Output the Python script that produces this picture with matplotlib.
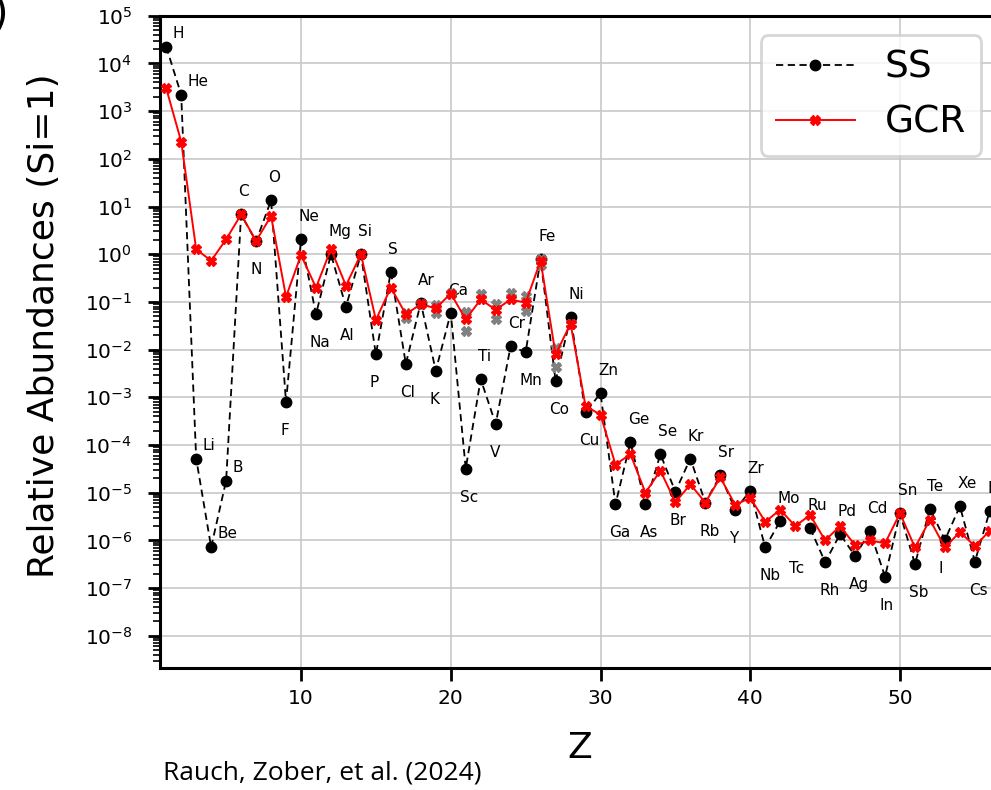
import numpy as np
import matplotlib
matplotlib.use("Agg")
import matplotlib.pyplot as plt
from matplotlib.ticker import LogLocator, NullFormatter

# element symbols, Z = 1..56
elements = ["H", "He", "Li", "Be", "B", "C", "N", "O", "F", "Ne",
            "Na", "Mg", "Al", "Si", "P", "S", "Cl", "Ar", "K", "Ca",
            "Sc", "Ti", "V", "Cr", "Mn", "Fe", "Co", "Ni", "Cu", "Zn",
            "Ga", "Ge", "As", "Se", "Br", "Kr", "Rb", "Sr", "Y", "Zr",
            "Nb", "Mo", "Tc", "Ru", "Rh", "Pd", "Ag", "Cd", "In", "Sn",
            "Sb", "Te", "I", "Xe", "Cs", "Ba"]
z = np.arange(1, len(elements) + 1)

# solar system abundances (Si = 1); Tc has no value
ss = np.array([2.24e4, 2.2e3, 5.2e-5, 7.2e-7, 1.8e-5, 6.8, 1.85, 13.5, 7.9e-4, 2.05,
               0.055, 1.0, 0.079, 1.0, 7.9e-3, 0.43, 5.0e-3, 0.096, 3.6e-3, 0.059,
               3.2e-5, 2.4e-3, 2.75e-4, 0.0119, 8.8e-3, 0.78, 2.2e-3, 0.0475, 4.85e-4, 1.21e-3,
               5.7e-6, 1.15e-4, 5.7e-6, 6.4e-5, 1.05e-5, 5.2e-5, 6.2e-6, 2.3e-5, 4.4e-6, 1.1e-5,
               7.1e-7, 2.55e-6, np.nan, 1.8e-6, 3.5e-7, 1.35e-6, 4.7e-7, 1.55e-6, 1.74e-7, 3.7e-6,
               3.2e-7, 4.6e-6, 1.02e-6, 5.2e-6, 3.6e-7, 4.2e-6])

# galactic cosmic ray abundances (Si = 1)
gcr = np.array([3.0e3, 229, 1.27, 0.73, 2.05, 6.8, 1.9, 6.3, 0.128, 0.96,
                0.20, 1.28, 0.22, 1.0, 0.042, 0.20, 0.055, 0.09, 0.073, 0.15,
                0.043, 0.113, 0.068, 0.113, 0.096, 0.73, 7.9e-3, 0.035, 6.6e-4, 4.3e-4,
                3.9e-5, 6.4e-5, 1.0e-5, 2.9e-5, 6.3e-6, 1.5e-5, 6.2e-6, 2.1e-5, 5.5e-6, 7.9e-6,
                2.45e-6, 4.4e-6, 2.0e-6, 3.4e-6, 1.0e-6, 2.0e-6, 7.9e-7, 1.0e-6, 8.7e-7, 3.7e-6,
                7.1e-7, 2.7e-6, 7.1e-7, 1.5e-6, 7.6e-7, 1.6e-6])

# grey GCR range markers, Cl..Ni
z_range = np.arange(17, 29)
gcr_hi = np.array([0.059, 0.09, 0.086, 0.156, 0.062, 0.145, 0.089, 0.156, 0.133, 0.8, 0.0107, 0.035])
gcr_lo = np.array([0.046, 0.09, 0.059, 0.15, 0.0245, 0.113, 0.043, 0.113, 0.065, 0.59, 0.0044, 0.035])

W, H = 991, 790
fig = plt.figure(figsize=(W / 100, H / 100), dpi=100)

# axes are cropped on the right, as in the reference
px_per_z = 14.975
x0_px = 151.25
xmin, xmax = 0.584, 60
left_px, bottom_px, top_px = 160, 668, 15.7
right_px = x0_px + xmax * px_per_z
ax = fig.add_axes([left_px / W, (H - bottom_px) / H,
                   (right_px - left_px) / W, (bottom_px - top_px) / H])

ax.plot(z, ss, "--", color="black", lw=1.3, marker="o", ms=7.5, dashes=(4, 2.5), label="SS", zorder=3)
ax.plot(z_range, gcr_hi, "X", color="gray", ms=6.5, ls="none", zorder=4)
ax.plot(z_range, gcr_lo, "X", color="gray", ms=6.5, ls="none", zorder=4)
ax.plot(z, gcr, "-", color="red", lw=1.4, marker="X", ms=6.5, label="GCR", zorder=5)

ax.set_yscale("log")
ax.set_xlim(xmin, xmax)
ax.set_ylim(10 ** -8.675, 1e5)
ax.set_xticks([10, 20, 30, 40, 50])
ax.yaxis.set_major_locator(LogLocator(base=10, numticks=20))
ax.yaxis.set_minor_locator(LogLocator(base=10, subs=np.arange(2, 10), numticks=40))
ax.yaxis.set_minor_formatter(NullFormatter())
ax.grid(True, which="major", color="#c8c8c8", lw=1.2)
ax.set_axisbelow(True)

for side in ["left", "bottom", "top"]:
    ax.spines[side].set_linewidth(2.2)
ax.tick_params(axis="both", which="major", length=9, width=2, labelsize=14.5)
ax.tick_params(axis="y", which="major", pad=11)
ax.tick_params(axis="x", which="major", pad=6)
ax.tick_params(axis="y", which="minor", length=5, width=1.2)

# element labels
for zi, name, s, g in zip(z, elements, ss, gcr):
    anchor = s if not np.isnan(s) else g / 2
    if zi <= 5:
        off = (6.5, 9)
    elif zi % 2 == 0:
        off = (-2.5, 18)
    else:
        off = (-6, -33)
    ax.annotate(name, (zi, anchor), xytext=off, textcoords="offset pixels",
                ha="left", va="baseline", fontsize=11, annotation_clip=False)

leg = ax.legend(loc="upper right", bbox_to_anchor=(981 / W, 1 - 35 / H),
                bbox_transform=fig.transFigure, borderaxespad=0, fontsize=27,
                framealpha=0.8, edgecolor="#cccccc", handlelength=2.1)
leg.get_frame().set_linewidth(2)

fig.text(44 / W, 1 - 326 / H, "Relative Abundances (Si=1)", rotation=90,
         ha="center", va="center", fontsize=26)
fig.text(580 / W, 1 - 758 / H, "Z", ha="center", va="baseline", fontsize=26)
fig.text(163 / W, 1 - 779 / H, "Rauch, Zober, et al. (2024)", ha="left", va="baseline",
         fontsize=19, family="Open Sans")
fig.text(9 / W, 1 + 6 / H, "b)", ha="right", va="top", fontsize=30)

fig.savefig("out.png", dpi=100)
